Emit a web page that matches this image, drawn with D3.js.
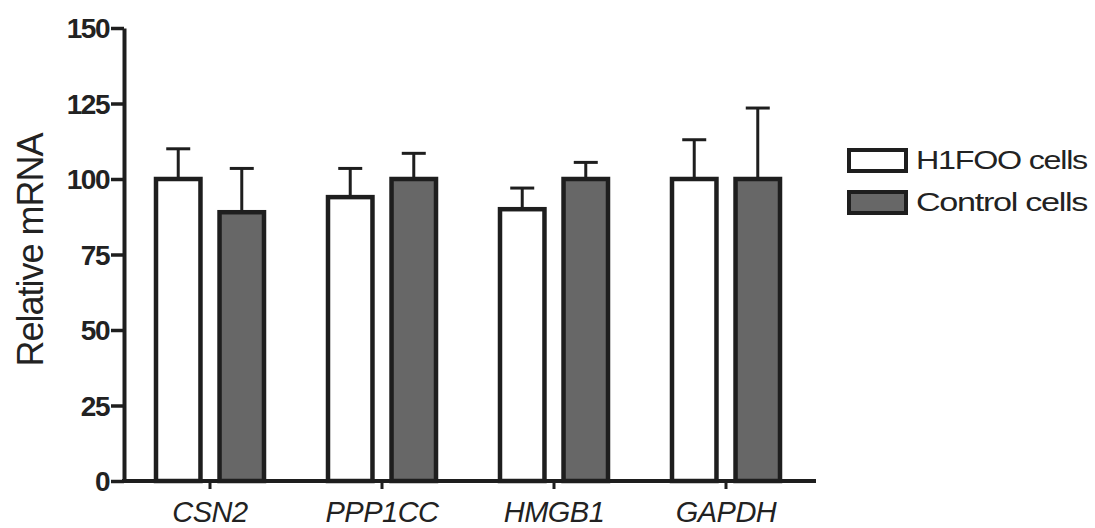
<!DOCTYPE html>
<html><head><meta charset="utf-8">
<script src="https://cdn.jsdelivr.net/npm/d3@7"></script>
<style>body{margin:0;background:#fff}svg{display:block}</style>
</head><body><svg id="c" width="1095" height="528"></svg>
<script>
const categories = ["CSN2", "PPP1CC", "HMGB1", "GAPDH"];
const seriesNames = ["H1FOO cells", "Control cells"];
const h1fooMean = [100, 94, 90, 100];
const h1fooErr  = [10, 9.5, 7, 13];
const controlMean = [89, 100, 100, 100];
const controlErr  = [14.5, 8.5, 5.5, 23.5];
const yTicks = [0, 25, 50, 75, 100, 125, 150];

const svg = d3.select("#c");
const font = "'Liberation Sans', Arial, sans-serif";
const y = d3.scaleLinear().domain([0, 150]).range([481, 28]);
const x0 = d3.scaleBand().domain(categories).range([124, 812]);
const x1 = d3.scaleBand().domain(seriesNames).range([32, 140]).paddingInner(0.3);
const fills = {"H1FOO cells": "#ffffff", "Control cells": "#676767"};
const stroke = "#1e1e1e";

const data = [];
categories.forEach((c, i) => {
  data.push({cat: c, s: seriesNames[0], v: h1fooMean[i], e: h1fooErr[i]});
  data.push({cat: c, s: seriesNames[1], v: controlMean[i], e: controlErr[i]});
});

const g = svg.append("g");
data.forEach(d => {
  const cx = x0(d.cat) + x1(d.s) + x1.bandwidth() / 2;
  g.append("line").attr("x1", cx).attr("x2", cx)
    .attr("y1", y(d.v)).attr("y2", y(d.v + d.e))
    .attr("stroke", stroke).attr("stroke-width", 3);
  g.append("line").attr("x1", cx - 12).attr("x2", cx + 12)
    .attr("y1", y(d.v + d.e)).attr("y2", y(d.v + d.e))
    .attr("stroke", stroke).attr("stroke-width", 3);
});
g.selectAll("rect.bar").data(data).join("rect")
  .attr("class", "bar")
  .attr("x", d => x0(d.cat) + x1(d.s))
  .attr("width", x1.bandwidth())
  .attr("y", d => y(d.v))
  .attr("height", d => y(0) - y(d.v))
  .attr("fill", d => fills[d.s])
  .attr("stroke", stroke).attr("stroke-width", 4.5);

// y axis
const ya = svg.append("g").attr("transform", "translate(124,0)")
  .call(d3.axisLeft(y).tickValues(yTicks).tickSize(13).tickPadding(2).tickSizeOuter(0));
ya.select(".domain").attr("stroke", stroke).attr("stroke-width", 4);
ya.selectAll(".tick line").attr("stroke", stroke).attr("stroke-width", 3.5);
ya.selectAll(".tick text").attr("font-family", font).attr("font-size", 28)
  .attr("font-weight", "bold").attr("letter-spacing", -1.5).attr("fill", "#222")
  .attr("dy", "0.35em");

// x axis
const xa = svg.append("g").attr("transform", "translate(0,481)")
  .call(d3.axisBottom(x0).tickSize(8).tickSizeOuter(0).tickPadding(12));
xa.select(".domain").attr("d", "M122,0H816").attr("stroke", stroke).attr("stroke-width", 4);
xa.selectAll(".tick line").attr("stroke", stroke).attr("stroke-width", 3);
xa.selectAll(".tick text").attr("font-family", font).attr("font-size", 29)
  .attr("font-style", "italic").attr("letter-spacing", -0.5).attr("fill", "#222");

// y title
svg.append("text").attr("transform", "translate(43,250) rotate(-90)")
  .attr("text-anchor", "middle").attr("font-family", font).attr("font-size", 36)
  .attr("letter-spacing", -1).attr("fill", "#222").text("Relative mRNA");

// legend
const lg = svg.append("g");
seriesNames.forEach((s, i) => {
  const yy = 150 + i * 42;
  lg.append("rect").attr("x", 849).attr("y", yy).attr("width", 57).attr("height", 21)
    .attr("fill", fills[s]).attr("stroke", stroke).attr("stroke-width", 4);
  lg.append("text").attr("x", 916).attr("y", yy + 19).attr("font-family", font)
    .attr("font-size", 26).attr("letter-spacing", -1).attr("fill", "#222")
    .attr("textLength", 171).attr("lengthAdjust", "spacingAndGlyphs").text(s);
});
</script></body></html>
